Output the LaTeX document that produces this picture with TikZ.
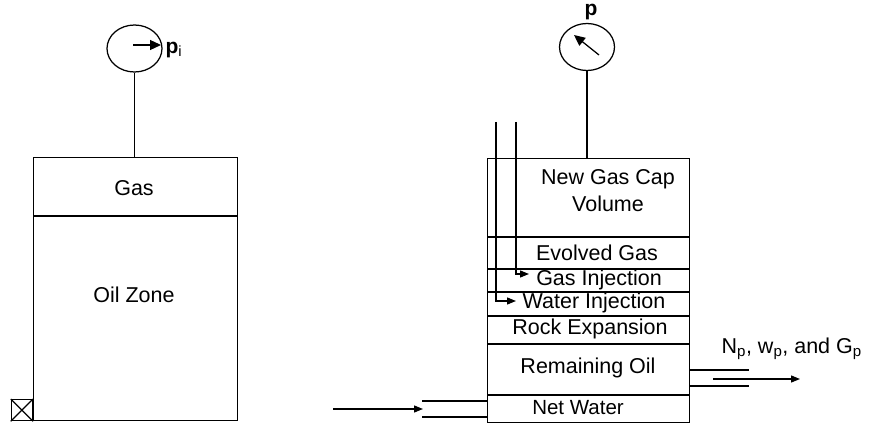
\documentclass[tikz,border=0pt]{standalone}
\usepackage{fontspec}
\setmainfont{Liberation Sans}
\usetikzlibrary{arrows.meta,shapes.geometric}
\begin{document}
\begin{tikzpicture}[x=1pt,y=-1pt,line width=1.25pt,
  lbl/.style={font=\fontsize{21.5}{24}\selectfont,inner sep=0pt},
  gauge/.style={draw,ellipse,minimum width=55pt,minimum height=47pt,inner sep=0pt},
  tank/.style={draw,rectangle,inner sep=0pt,anchor=north west},
  tip/.style={-{Triangle[length=9pt,width=7pt]}},
  needle/.style={-{Triangle[length=11pt,width=10pt]}}]
\useasboundingbox (0,0) rectangle (871,425);
% ---------- left reservoir ----------
\node[tank,minimum width=204pt,minimum height=263pt] (tankA) at (33,157) {};
\draw (33,216) -- (237,216);
\node[lbl] (gasA) at (134,188) {Gas};
\node[lbl] (oilA) at (134,295) {Oil Zone};
\node[gauge] (gA) at (134.5,48.5) {};
\draw (gA.south) -- (gA.south |- tankA.north);
\draw[needle] (133,45) -- (161,45);
\node[lbl,anchor=west,font=\fontsize{21}{22}\selectfont\bfseries] (pi) at (165,50) {p\textsubscript{\mdseries i}};
\node[draw,minimum size=21pt,inner sep=0pt,anchor=south east] (valve) at (tankA.south west) {};
\draw (valve.north west) -- (valve.south east) (valve.north east) -- (valve.south west);
% ---------- right reservoir ----------
\node[tank,minimum width=202pt,minimum height=264pt] (tankB) at (487,158) {};
\foreach \yy in {237,269,292,316,344,395} \draw (487,\yy) -- (689,\yy);
\node[lbl,align=center] (gascap) at (608,191) {New Gas Cap\\[3pt]Volume};
\node[lbl] (evolved) at (597,253) {Evolved Gas};
\node[lbl] (gasinj) at (599,280) {Gas Injection};
\node[lbl] (watinj) at (594,303) {Water Injection};
\node[lbl] (rock) at (590,329) {Rock Expansion};
\node[lbl] (remoil) at (588,368) {Remaining Oil};
\node[lbl,font=\fontsize{20.5}{23}\selectfont] (netw) at (578,408) {Net Water};
\node[gauge] (gB) at (587,47) {};
\draw (gB.south) -- (gB.south |- tankB.north);
\draw[needle] (599,55) -- (574,35);
\node[lbl,font=\fontsize{21}{22}\selectfont\bfseries] (pB) at (591,12) {p};
% injection pipes
\coordinate (gpipe) at (516,122);
\coordinate (wpipe) at (496,122);
\coordinate (gend) at (529,274);
\coordinate (wend) at (516,301);
\draw[tip] (gpipe) |- (gend);
\draw[tip] (wpipe) |- (wend);
% water influx
\coordinate (inA) at (333,409);
\coordinate (inB) at (423,409);
\draw[tip] (inA) -- (inB);
\draw (422,401) -- (487,401) (422,417) -- (487,417);
% production
\draw (689,370) -- (749,370) (689,386) -- (749,386);
\coordinate (outA) at (713,379);
\coordinate (outB) at (800,379);
\draw[tip] (outA) -- (outB);
\node[lbl,anchor=west] (prod) at (721,349) {N\textsubscript{p}, w\textsubscript{p}, and G\textsubscript{p}};
\end{tikzpicture}
\end{document}
